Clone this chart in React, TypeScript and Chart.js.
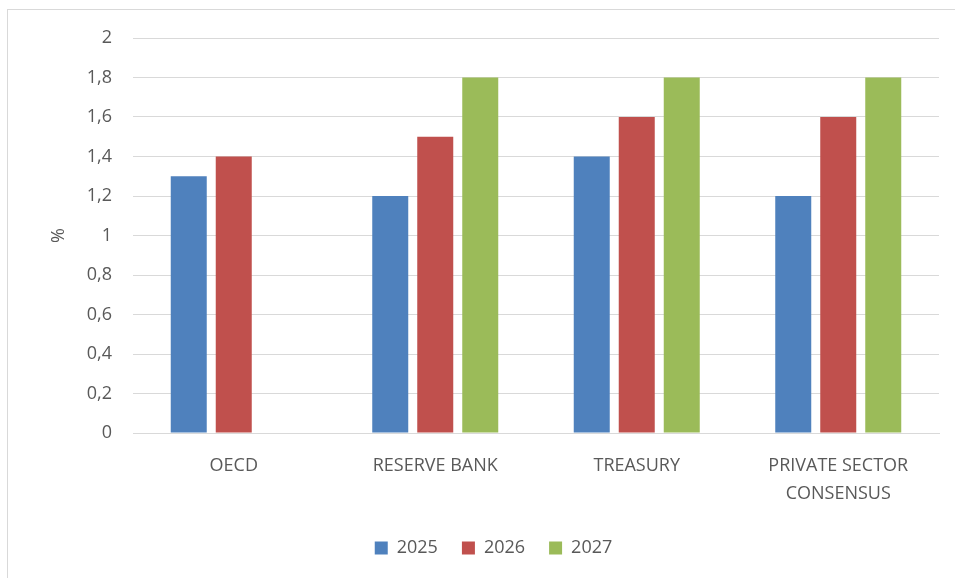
import React, { useEffect, useRef } from "react";
import { Chart, registerables } from "chart.js";

Chart.register(...registerables);

const categories: (string | string[])[] = ["OECD", "RESERVE BANK", "TREASURY", ["PRIVATE SECTOR", "CONSENSUS"]];
const seriesNames = ["2025", "2026", "2027"];
const values2025 = [1.3, 1.2, 1.4, 1.2];
const values2026 = [1.4, 1.5, 1.6, 1.6];
const values2027: (number | null)[] = [null, 1.8, 1.8, 1.8];
const colors = ["#4f81bd", "#c0504d", "#9bbb59"];
const yMin = 0;
const yMax = 2;
const yStep = 0.2;
const yTitle = "%";

const FONT = "'Open Sans', 'Noto Sans', sans-serif";
const TEXT = "#595959";

export default function App() {
  const ref = useRef<HTMLCanvasElement | null>(null);
  useEffect(() => {
    if (!ref.current) return;
    const chart = new Chart(ref.current, {
      type: "bar",
      data: {
        labels: categories,
        datasets: [values2025, values2026, values2027].map((d, i) => ({
          label: seriesNames[i],
          data: d,
          backgroundColor: colors[i],
          borderWidth: 0,
          categoryPercentage: 0.67,
          barPercentage: 0.8,
        })),
      },
      options: {
        animation: false,
        responsive: false,
        devicePixelRatio: 1,
        layout: { padding: { left: 48, right: 16, top: 38, bottom: 11 } },
        plugins: {
          tooltip: { enabled: false },
          legend: {
            position: "bottom",
            labels: {
              boxWidth: 13,
              boxHeight: 13,
              padding: 24,
              color: TEXT,
              font: { family: FONT, size: 18 },
            },
          },
        },
        scales: {
          x: {
            grid: { display: false },
            border: { display: true, color: "#d9d9d9", width: 1 },
            ticks: {
              color: TEXT,
              padding: 11,
              maxRotation: 0,
              autoSkip: false,
              font: { family: FONT, size: 18, lineHeight: "28px" },
            },
            afterFit: (s: any) => {
              s.height = 82;
            },
          },
          y: {
            min: yMin,
            max: yMax,
            grid: { color: "#d9d9d9", drawTicks: false },
            border: { display: false },
            ticks: {
              stepSize: yStep,
              color: TEXT,
              padding: 21,
              font: { family: FONT, size: 18 },
              callback: (v: any) => String(Number(Number(v).toFixed(1))).replace(".", ","),
            },
            title: {
              display: true,
              text: yTitle,
              color: TEXT,
              padding: 0,
              font: { family: FONT, size: 18 },
            },
            afterFit: (s: any) => {
              s.width = 85;
            },
          },
        },
      },
    });
    return () => chart.destroy();
  }, []);
  return (
    <div style={{ position: "fixed", left: 0, top: 0, width: 955, height: 578, background: "#fff", overflow: "hidden" }}>
      <div
        style={{
          position: "absolute",
          left: 7,
          top: 9,
          width: 980,
          height: 600,
          border: "1px solid #d9d9d9",
          boxSizing: "border-box",
        }}
      />
      <canvas ref={ref} width={955} height={578} style={{ position: "absolute", left: 0, top: 0, width: 955, height: 578 }} />
    </div>
  );
}
